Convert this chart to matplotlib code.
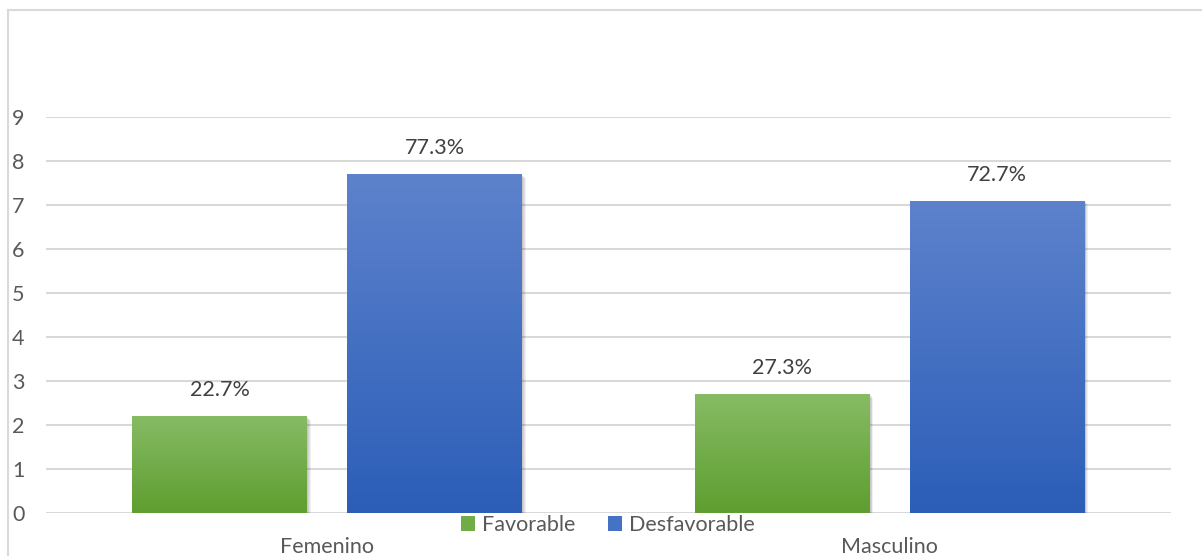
import numpy as np
import matplotlib
matplotlib.use("Agg")
import matplotlib.pyplot as plt
from matplotlib.patches import Rectangle, Patch
from matplotlib.colors import LinearSegmentedColormap
from matplotlib import transforms
from matplotlib.lines import Line2D

plt.rcParams['font.family'] = ['Lato', 'DejaVu Sans']

categories = ['Femenino', 'Masculino']
series = ['Favorable', 'Desfavorable']
favorable = [2.2, 2.7]
desfavorable = [7.7, 7.1]
labels_fav = ['22.7%', '27.3%']
labels_desf = ['77.3%', '72.7%']

grad = {
    'Favorable': ('#5f9e30', '#86bb64'),
    'Desfavorable': ('#2c5eb8', '#5d82cc'),
}
solid = {'Favorable': '#70ad47', 'Desfavorable': '#4472c4'}
fs = 15.5

fig = plt.figure(figsize=(12.02, 5.56), dpi=100)
ax = fig.add_axes([46/1202, 1-513/556, (1171-46)/1202, (513-117)/556])

# chart frame
fig.add_artist(Line2D([8/1202, 1], [1-10/556, 1-10/556], color='#d9d9d9', lw=1.5))
fig.add_artist(Line2D([8/1202, 8/1202], [0, 1-10/556], color='#d9d9d9', lw=1.5))

x = np.arange(len(categories))
w = 0.311
off = 0.191

for vals, labs, name, sgn in [(favorable, labels_fav, 'Favorable', -1),
                              (desfavorable, labels_desf, 'Desfavorable', 1)]:
    cmap = LinearSegmentedColormap.from_list(name, grad[name])
    for xi, v, lab in zip(x, vals, labs):
        x0 = xi + sgn * off - w / 2
        # soft shadow to the right and below
        for k in range(1, 5):
            tr = transforms.offset_copy(ax.transData, fig=fig, x=k*0.9, y=-k*0.9, units='dots')
            ax.add_patch(Rectangle((x0, 0), w, v, transform=tr, color='black',
                                   alpha=0.06, lw=0, zorder=2))
        rect = Rectangle((x0, 0), w, v, facecolor='none', lw=0, zorder=3)
        ax.add_patch(rect)
        im = ax.imshow(np.linspace(0, 1, 100).reshape(-1, 1), extent=[x0, x0 + w, 0, v],
                       origin='lower', aspect='auto', cmap=cmap, zorder=3)
        im.set_clip_path(rect)
        ax.text(xi + sgn * off, v + 0.36, lab, ha='center', va='bottom',
                fontsize=fs, color='#404040')

ax.set_xlim(-0.5, 1.5)
ax.set_ylim(0, 9)
ax.set_yticks(range(10))
ax.yaxis.grid(True, color='#d9d9d9', lw=1.5)
ax.set_axisbelow(True)
for s in ax.spines.values():
    s.set_visible(False)
ax.axhline(0, color='#d9d9d9', lw=2, zorder=1)
ax.tick_params(axis='y', length=0, pad=24.5, labelsize=fs, labelcolor='#595959')
ax.tick_params(axis='x', length=0, pad=17, labelsize=fs, labelcolor='#595959')
ax.set_xticks(x)
ax.set_xticklabels(categories)
for t in ax.get_yticklabels():
    t.set_horizontalalignment('left')

handles = [Patch(facecolor=solid[s], edgecolor='none') for s in series]
fig.legend(handles, series, loc='center', bbox_to_anchor=(608/1202, 1-525/556),
           ncol=2, frameon=False, fontsize=fs, labelcolor='#595959',
           handlelength=0.65, handleheight=0.65, handletextpad=0.35,
           columnspacing=1.5, borderaxespad=0)

fig.savefig('out.png', dpi=100)
